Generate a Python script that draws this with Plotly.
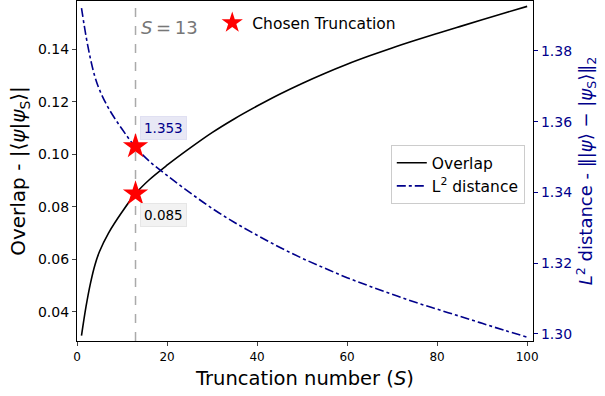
import plotly.graph_objects as go

# Data
S = [1, 2, 3, 4, 5, 7, 10, 13, 16, 20, 25, 30, 35, 40, 45, 50, 55, 60, 65, 70, 75, 80, 85, 90, 95, 100]
overlap = [0.031, 0.042, 0.051, 0.058, 0.063, 0.070, 0.078, 0.085, 0.0902, 0.0958, 0.1022, 0.1082,
           0.1135, 0.1183, 0.1228, 0.1269, 0.1307, 0.1342, 0.1374, 0.1404, 0.1432, 0.1459, 0.1485,
           0.1511, 0.1537, 0.1562]
l2_distance = [1.3921, 1.3842, 1.3777, 1.3726, 1.3690, 1.3638, 1.3579, 1.3528, 1.3489, 1.3448,
               1.3400, 1.3355, 1.3315, 1.3279, 1.3245, 1.3214, 1.3186, 1.3159, 1.3135, 1.3112,
               1.3090, 1.3070, 1.3050, 1.3030, 1.3010, 1.2991]
chosen_S = 13
chosen_overlap = 0.085
chosen_l2 = 1.353
x_ticks = [0, 20, 40, 60, 80, 100]
y_ticks = [0.04, 0.06, 0.08, 0.10, 0.12, 0.14]
y2_ticks = [1.30, 1.32, 1.34, 1.36, 1.38]

FONT = "DejaVu Sans"
BLUE = "#00008B"

fig = go.Figure()
fig.add_trace(go.Scatter(x=S, y=overlap, mode="lines", name="Overlap",
                         line=dict(color="black", width=1.6, shape="spline", smoothing=1),
                         legend="legend2", yaxis="y"))
fig.add_trace(go.Scatter(x=S, y=l2_distance, mode="lines", name="L<sup>2</sup> distance",
                         line=dict(color=BLUE, width=1.6, dash="dashdot", shape="spline", smoothing=1),
                         legend="legend2", yaxis="y2"))
fig.add_trace(go.Scatter(x=[chosen_S], y=[chosen_overlap], mode="markers", name="Chosen Truncation",
                         marker=dict(symbol="star", size=19, color="red"),
                         legend="legend", yaxis="y", showlegend=True))
fig.add_trace(go.Scatter(x=[chosen_S], y=[chosen_l2], mode="markers", name="Chosen Truncation",
                         marker=dict(symbol="star", size=19, color="red"),
                         yaxis="y2", showlegend=False))

fig.add_shape(type="line", xref="x", yref="paper", x0=chosen_S, x1=chosen_S, y0=0, y1=1,
              line=dict(color="#aaaaaa", width=1.5, dash="dash"), layer="below")

fig.add_annotation(xref="x", yref="paper", x=chosen_S, y=0.9206, xanchor="left", yanchor="middle",
                   xshift=3, text="<i>S</i>\u2009=\u200913", showarrow=False,
                   font=dict(family=FONT, size=18, color="#777777"))
fig.add_annotation(xref="x", yref="y", x=chosen_S, y=chosen_overlap, xshift=27.5, yshift=-21.5,
                   text=f"{chosen_overlap:.3f}", showarrow=False,
                   font=dict(family=FONT, size=13.5, color="black"),
                   bgcolor="#f2f2f2", bordercolor="#e6e6e6", borderwidth=1, borderpad=3)
fig.add_annotation(xref="x", yref="y2", x=chosen_S, y=chosen_l2, xshift=27.5, yshift=18,
                   text=f"{chosen_l2:.3f}", showarrow=False,
                   font=dict(family=FONT, size=13.5, color=BLUE),
                   bgcolor="#e8e8f5", bordercolor="#e0e0f2", borderwidth=1, borderpad=3)

fig.update_layout(
    width=605, height=396,
    margin=dict(l=77, r=72, t=1, b=55),
    paper_bgcolor="white", plot_bgcolor="white",
    font=dict(family=FONT, size=14, color="black"),
    xaxis=dict(range=[0, 101.3], tickvals=x_ticks, ticks="outside", ticklen=4,
               showline=True, linecolor="black", linewidth=1.2, mirror=True,
               showgrid=False, zeroline=False, tickfont=dict(size=12),
               title=dict(text="Truncation number (<i>S</i>)", font=dict(size=19.5), standoff=8)),
    yaxis=dict(range=[0.02897, 0.15825], tickvals=y_ticks, tickformat=".2f", ticks="outside",
               ticklen=4, showline=True, linecolor="black", linewidth=1.2,
               showgrid=False, zeroline=False, tickfont=dict(size=14),
               title=dict(text="Overlap - |⟨<i>ψ</i>|<i>ψ</i><sub>S</sub>⟩|", font=dict(size=20),
                          standoff=6)),
    yaxis2=dict(range=[1.298, 1.3941], tickvals=y2_ticks, tickformat=".2f", ticks="outside",
                ticklen=4, tickcolor=BLUE, overlaying="y", side="right",
                showline=True, linecolor="black", linewidth=1.2,
                showgrid=False, zeroline=False, tickfont=dict(size=14, color=BLUE),
                title=dict(text="<i>L</i><sup>2</sup> distance - ‖|<i>ψ</i>⟩ − |<i>ψ</i><sub>S</sub>⟩‖<sub>2</sub>",
                           font=dict(size=18, color=BLUE), standoff=8)),
    legend=dict(x=0.2966, y=0.985, xanchor="left", yanchor="top", bgcolor="rgba(0,0,0,0)",
                borderwidth=0, font=dict(size=15.5), itemwidth=30),
    legend2=dict(x=0.982, y=0.576, xanchor="right", yanchor="top", bgcolor="white",
                 bordercolor="#cccccc", borderwidth=1, font=dict(size=15.5), itemwidth=30,
                 tracegroupgap=0),
)

fig.write_html("out.html")
